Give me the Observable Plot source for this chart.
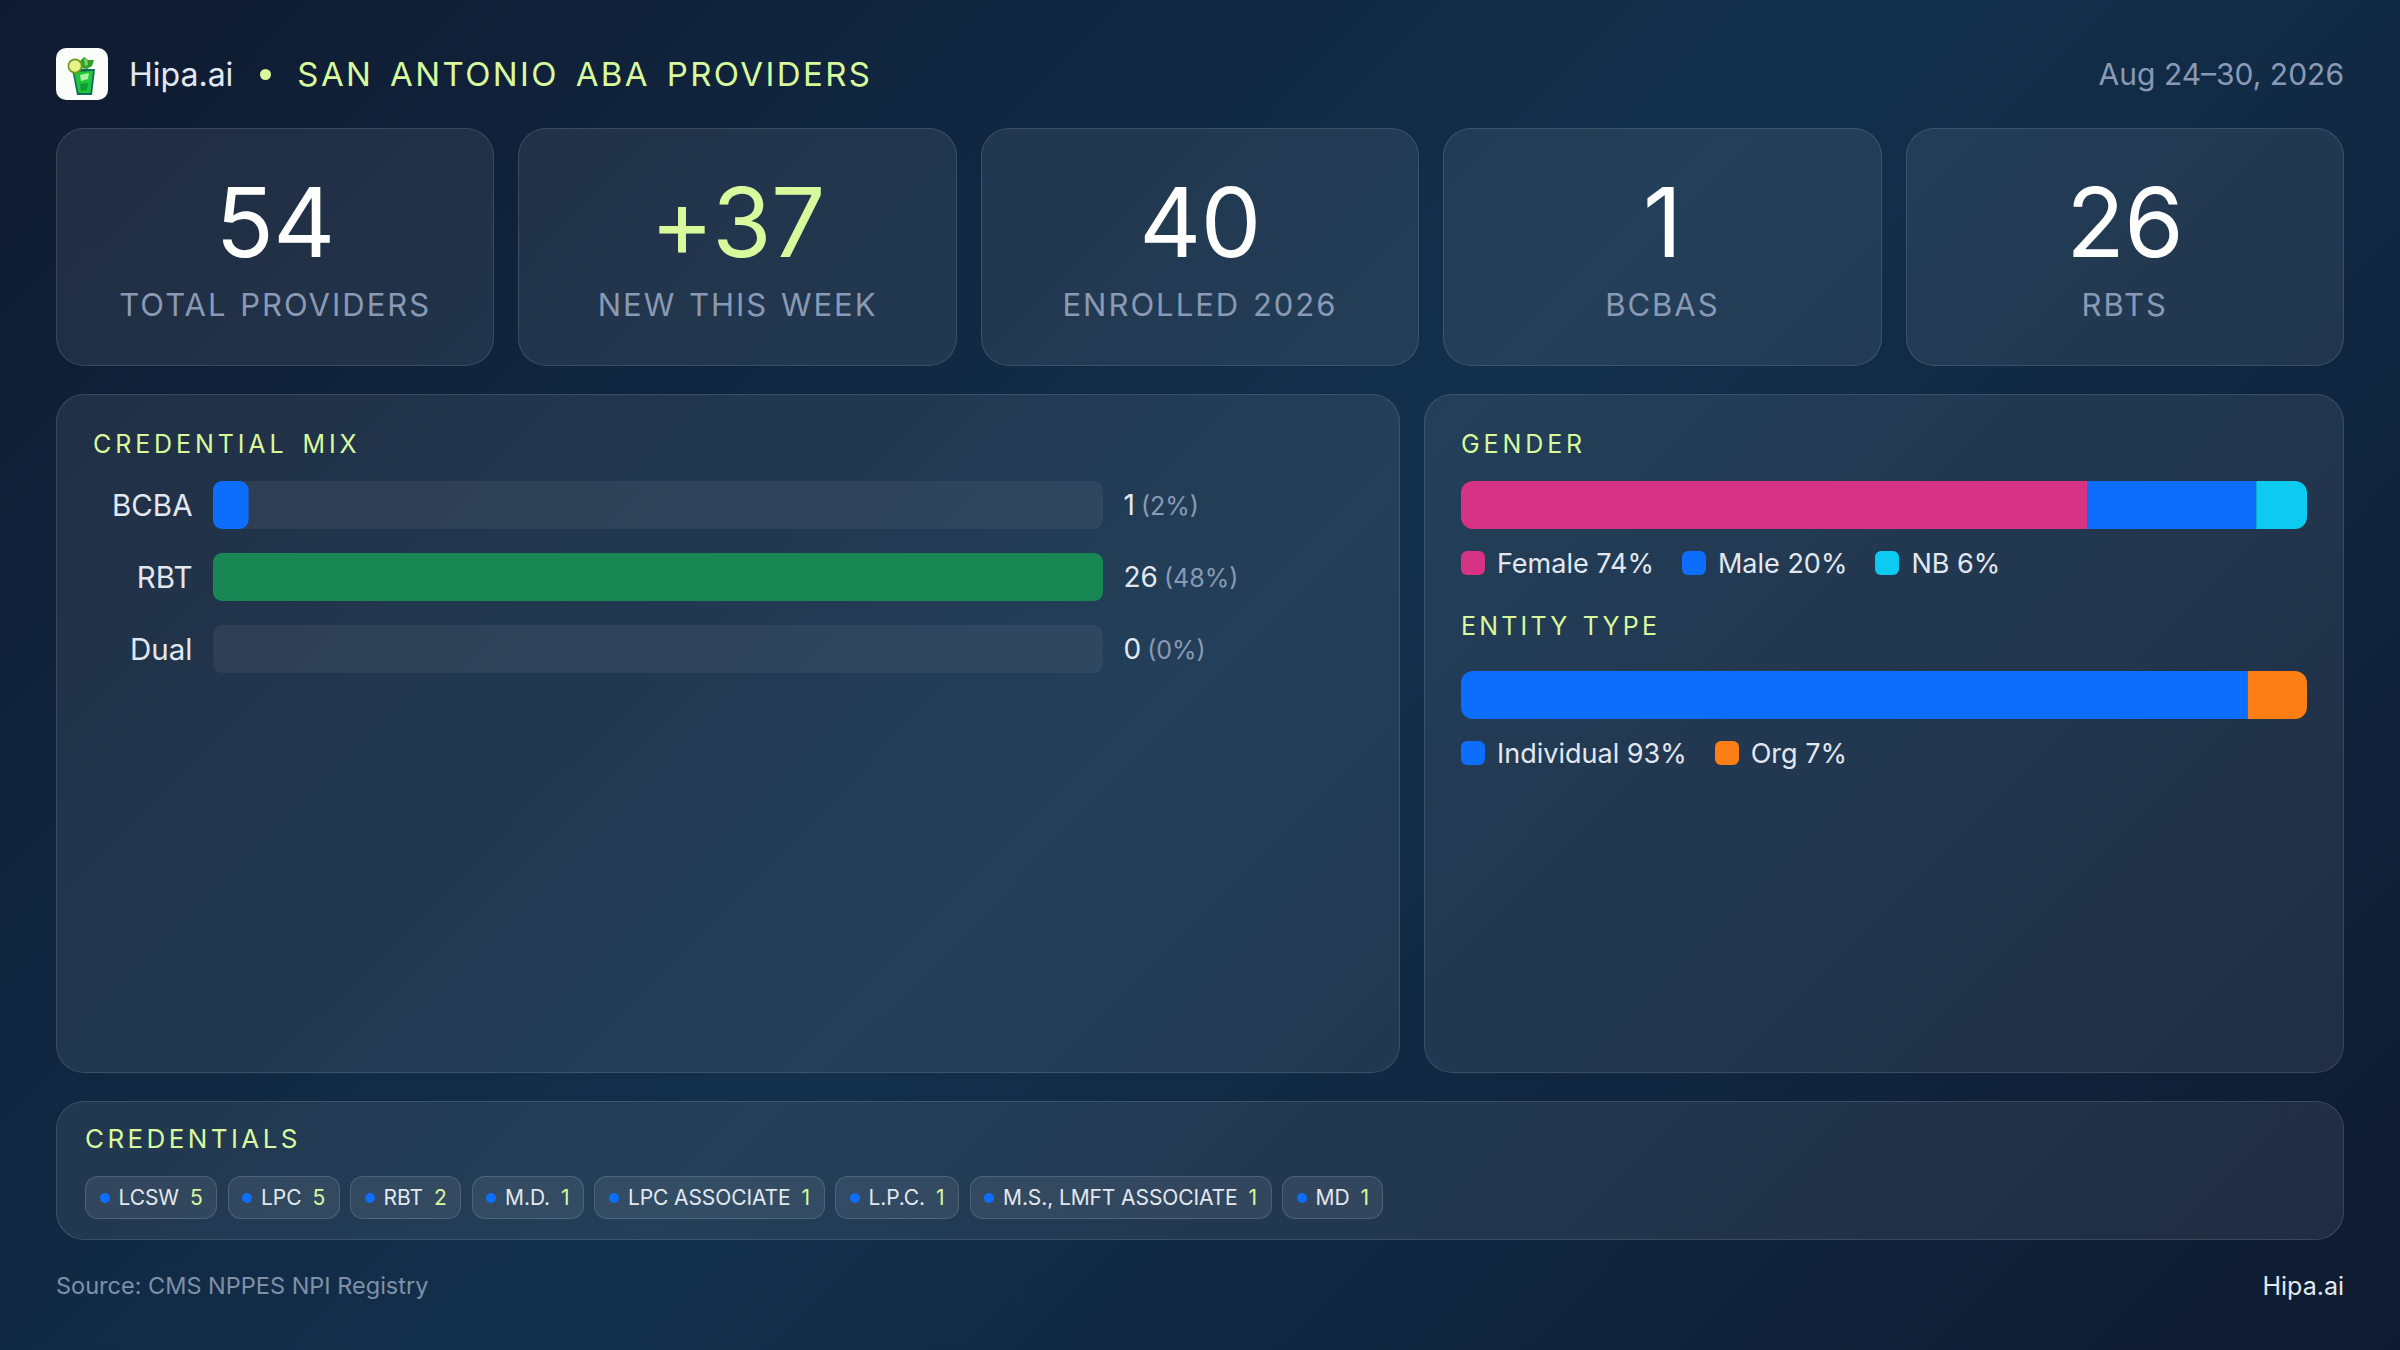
<!DOCTYPE html>
<html>
<head>
<meta charset="utf-8">
<script src="https://cdn.jsdelivr.net/npm/d3@7"></script>
<script src="https://cdn.jsdelivr.net/npm/@observablehq/plot@0.6"></script>
<style>
*{box-sizing:border-box}
html,body{margin:0;padding:0;width:2400px;height:1350px;overflow:hidden}
body{background:linear-gradient(135deg,#0f1a30 0%,#12304c 50%,#0f1a30 100%);font-family:Inter,"Liberation Sans",sans-serif;color:#e2e8f0;position:relative}
.header{position:absolute;left:56px;right:56px;top:48px;height:52px;display:flex;align-items:center}
.header svg.logo{width:52px;height:52px;flex:none}
.brand{font-size:32px;margin-left:21px;color:#e2e8f0}
.bullet{width:11px;height:11px;border-radius:50%;background:#d9f99d;margin:0 26px 0 27px}
.title{font-size:33px;color:#d9f99d;letter-spacing:2.4px;word-spacing:5px}
.date{margin-left:auto;font-size:30px;color:#8a9ab5}
.kpis{position:absolute;left:56px;right:56px;top:128px;height:238px;display:grid;grid-template-columns:repeat(5,1fr);gap:24px}
.card{background:rgba(255,255,255,.075);border:1px solid rgba(255,255,255,.12);border-radius:28px}
.kpi{text-align:center;padding-top:48px}
.kpi .v{font-size:96px;line-height:90px;color:#fff;font-weight:400;letter-spacing:-.5px}
.kpi .v.new{color:#d9f99d}
.kpi .l{font-size:31px;line-height:40px;margin-top:18px;color:#8a9ab5;letter-spacing:2px;word-spacing:2px}
.panel{position:absolute;top:394px;height:679px}
.left{left:56px;width:1344px}
.right{left:1424px;width:920px}
.ptitle{position:absolute;font-size:25px;line-height:30px;color:#d9f99d;letter-spacing:3.9px;word-spacing:4px}
.plot{position:absolute}
.legend{position:absolute;display:flex;align-items:center;font-size:27px;line-height:24px;color:#e2e8f0;gap:28px}
.legend .it{display:flex;align-items:center;gap:12px}
.legend i{display:block;width:24px;height:24px;border-radius:6px}
.legend span{position:relative;top:1px}
.bottom{position:absolute;left:56px;right:56px;top:1101px;height:139px}
.chips{position:absolute;left:28px;top:74px;display:flex;gap:10.5px}
.chip{height:43px;display:flex;align-items:center;padding:0 13.5px;background:rgba(255,255,255,.075);border:1px solid rgba(255,255,255,.14);border-radius:13px;font-size:21px;letter-spacing:-.1px;color:#e2e8f0;white-space:nowrap}
.chip i{display:block;width:10px;height:10px;border-radius:50%;background:#0d6efd;margin-right:9px}
.chip b{font-weight:400;color:#d9f99d;margin-left:11px}
.foot{position:absolute;top:1271px;line-height:30px}
</style>
</head>
<body>
<div class="header">
<svg class="logo" viewBox="0 0 52 52">
<rect width="52" height="52" rx="10" fill="#fbfdfb"/>
<path d="M24 13 L28 9 L32 12 L38 12 L36 18 L31 21 L25 20Z" fill="#2f9e2f"/>
<path d="M28 11 L31 10 L32 17 L29 18Z" fill="#7ad45a"/>
<path d="M16 21 L39 21 L36 47 L21 47Z" fill="#0d6b5c"/>
<path d="M18 24 L37 23 L34.500 45 L22.500 45Z" fill="#22c43a"/>
<path d="M24 27 L33 25 L32 31 L25 33Z" fill="#a7f3a0"/>
<path d="M24 36 L32 35 L31 42 L25 43Z" fill="#0f9a3c"/>
<circle cx="19" cy="18" r="7.500" fill="#6f9a1a"/>
<circle cx="19" cy="18" r="5.800" fill="#e8f28a"/>
</svg>
<span class="brand">Hipa.ai</span><span class="bullet"></span><span class="title">SAN ANTONIO ABA PROVIDERS</span>
<span class="date">Aug 24–30, 2026</span>
</div>
<div class="kpis" id="kpis"></div>
<div class="panel card left">
<div class="ptitle" style="left:36px;top:34px">CREDENTIAL MIX</div>
<div class="plot" id="mix" style="left:36px;top:86px"></div>
</div>
<div class="panel card right">
<div class="ptitle" style="left:36px;top:34px">GENDER</div>
<div class="plot" id="gender" style="left:36px;top:86px"></div>
<div class="legend" id="genderLegend" style="left:36px;top:156px"></div>
<div class="ptitle" style="left:36px;top:216px;letter-spacing:3.2px;word-spacing:2px">ENTITY TYPE</div>
<div class="plot" id="entity" style="left:36px;top:276px"></div>
<div class="legend" id="entityLegend" style="left:36px;top:346px"></div>
</div>
<div class="bottom card">
<div class="ptitle" style="left:28px;top:22px;font-size:26px;letter-spacing:3.4px">CREDENTIALS</div>
<div class="chips" id="chips"></div>
</div>
<div class="foot" style="left:56px;color:#7f90a9;font-size:23.5px">Source: CMS NPPES NPI Registry</div>
<div class="foot" style="right:56px;color:#e2e8f0;font-size:25px">Hipa.ai</div>
<script>
const kpiValues = ["54", "+37", "40", "1", "26"];
const kpiLabels = ["TOTAL PROVIDERS", "NEW THIS WEEK", "ENROLLED 2026", "BCBAS", "RBTS"];

const mixLabels = ["BCBA", "RBT", "Dual"];
const mixCounts = [1, 26, 0];
const mixShares = [2, 48, 0];
const mixColors = ["#0d6efd", "#198754", "#6c757d"];

const genderLabels = ["Female", "Male", "NB"];
const genderShares = [74, 20, 6];
const genderColors = ["#d63384", "#0d6efd", "#0dcaf0"];

const entityLabels = ["Individual", "Org"];
const entityShares = [93, 7];
const entityColors = ["#0d6efd", "#fd7e14"];

const chipLabels = ["LCSW", "LPC", "RBT", "M.D.", "LPC ASSOCIATE", "L.P.C.", "M.S., LMFT ASSOCIATE", "MD"];
const chipCounts = [5, 5, 2, 1, 1, 1, 1, 1];

document.getElementById("kpis").innerHTML = kpiValues.map((v, i) =>
  `<div class="card kpi"><div class="v${v.startsWith("+") ? " new" : ""}">${v}</div><div class="l">${kpiLabels[i]}</div></div>`).join("");

document.getElementById("chips").innerHTML = chipLabels.map((l, i) =>
  `<div class="chip"><i></i>${l}<b>${chipCounts[i]}</b></div>`).join("");

// Credential mix: bar length is the count relative to the largest count, in whole percents
const maxCount = d3.max(mixCounts);
const mixRows = mixLabels.map((label, i) => ({
  label, count: mixCounts[i], share: mixShares[i], color: mixColors[i],
  width: Math.round(100 * mixCounts[i] / maxCount)
}));

const fontFamily = 'Inter,"Liberation Sans",sans-serif';
document.getElementById("mix").append(Plot.plot({
  width: 1270, height: 192,
  marginLeft: 120, marginRight: 260, marginTop: 0, marginBottom: 0,
  style: {background: "transparent", fontFamily, overflow: "visible"},
  x: {domain: [0, 100], axis: null},
  y: {domain: mixLabels, axis: null, paddingInner: 1 / 3, paddingOuter: 0},
  marks: [
    Plot.barX(mixRows, {x1: 0, x2: () => 100, y: "label", fill: "rgba(255,255,255,0.06)", rx: 9}),
    Plot.barX(mixRows, {x1: 0, x2: "width", y: "label", fill: "color", rx: 9}),
    Plot.text(mixRows, {x: 0, y: "label", text: "label", textAnchor: "end", dx: -21, dy: 1, fontSize: 29.5, fill: "#e2e8f0"}),
    Plot.text(mixRows, {
      x: () => 100, y: "label", text: d => String(d.count), textAnchor: "start", dx: 20, dy: 1, fontSize: 28, fill: "#e2e8f0",
      render(index, scales, values, dimensions, context, next) {
        const g = next(index, scales, values, dimensions, context);
        d3.select(g).selectAll("text").each(function (i) {
          d3.select(this).append("tspan").attr("fill", "#8a9ab5").attr("dx", 6).attr("font-size", 25).text(`(${mixRows[i].share}%)`);
        });
        return g;
      }
    })
  ]
}));

function stacked(id, labels, shares, colors) {
  const rows = labels.map((label, i) => ({label, share: shares[i]}));
  document.getElementById(id).append(Plot.plot({
    width: 846, height: 48,
    margin: 0,
    style: {background: "transparent", clipPath: "inset(0 round 12px)", display: "block"},
    x: {domain: [0, 100], axis: null},
    color: {domain: labels, range: colors},
    marks: [Plot.barX(rows, {x: "share", fill: "label", order: null})]
  }));
  document.getElementById(id + "Legend").innerHTML = labels.map((l, i) =>
    `<div class="it"><i style="background:${colors[i]}"></i><span>${l} ${shares[i]}%</span></div>`).join("");
}
stacked("gender", genderLabels, genderShares, genderColors);
stacked("entity", entityLabels, entityShares, entityColors);
</script>
</body>
</html>
